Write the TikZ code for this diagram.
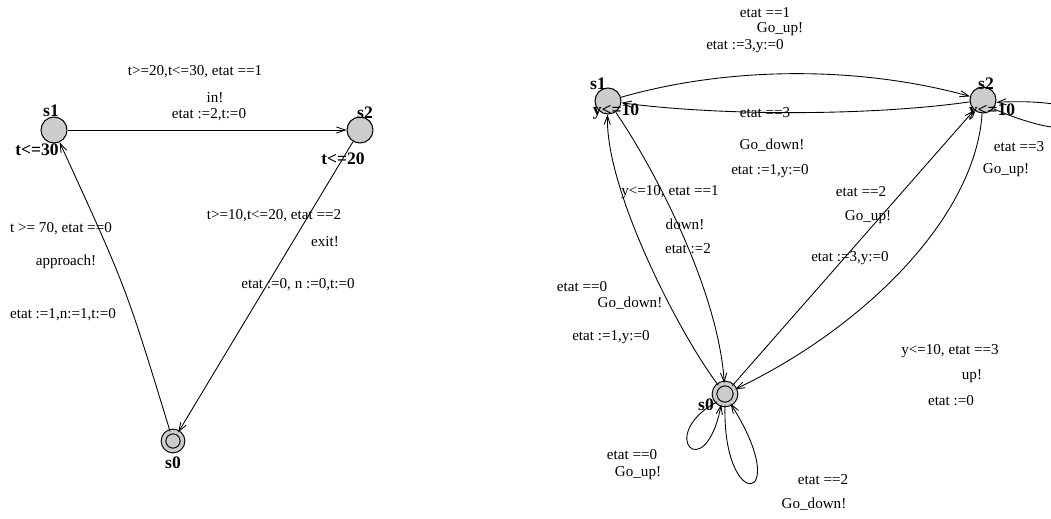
\documentclass[tikz,border=0pt]{standalone}
\usepackage{fontspec}
\setmainfont{Liberation Serif}
\usetikzlibrary{arrows.meta}
\tikzstyle{line} = [draw, line width=0.5pt, -{Straight Barb[length=5pt,width=3.5pt]}]
\tikzstyle{loc} = [draw, circle, fill=gray!40, minimum size=0.52cm, inner sep=0pt, line width=0.6pt]
\tikzstyle{initloc} = [loc, double=gray!40, double distance=2pt, minimum size=0.38cm]
\tikzstyle{lab} = [inner sep=0pt]
\tikzstyle{inv} = [inner sep=0pt, font=\bfseries]

\begin{document}
\begin{tikzpicture}[x=0.02cm, y=-0.02cm, font=\fontsize{8.6}{10}\selectfont]
        \path[use as bounding box, clip] (0,0) rectangle (1051,518);
        \node[loc] (ls1) at (54,130) {};
        \node[loc] (ls2) at (360,130) {};
        \node[initloc] (ls0) at (173,441) {};
        \node[inv] (ls1name) at (51,111) {s1};
        \node[inv] (ls1inv) at (37,150) {t<=30};
        \node[inv] (ls2name) at (365,113) {s2};
        \node[inv] (ls2inv) at (343,159) {t<=20};
        \node[inv] (ls0name) at (173,463) {s0};
        \node[lab] (inguard) at (195,72) {t>=20,t<=30, etat ==1};
        \node[lab] (insync) at (215,98) {in!};
        \node[lab] (inupd) at (209,115) {etat :=2,t:=0};
        \node[lab] (exitguard) at (274,216) {t>=10,t<=20, etat ==2};
        \node[lab] (exitsync) at (325,242) {exit!};
        \node[lab] (exitupd) at (298,285) {etat :=0, n :=0,t:=0};
        \node[lab] (appguard) at (61,229) {t >= 70, etat ==0};
        \node[lab] (appsync) at (66,262) {approach!};
        \node[lab] (appupd) at (63,315) {etat :=1,n:=1,t:=0};
        \path[line] (ls1) -- (ls2);
        \path[line] (ls2) -- (ls0);
        \path[line] (ls0) .. controls (126,287) .. (ls1);
        \node[loc] (rs1) at (608,101) {};
        \node[loc] (rs2) at (983,100) {};
        \node[initloc, minimum size=0.42cm] (rs0) at (725,394) {};
        \node[inv] (rs1name) at (598,84) {s1};
        \node[inv] (rs1inv) at (616,112) {y<=10};
        \node[inv] (rs2name) at (986,84) {s2};
        \node[inv] (rs2inv) at (992,112) {y<=10};
        \node[inv] (rs0name) at (706,405) {s0};
        \node[lab] (goupguard) at (765,13) {etat ==1};
        \node[lab] (goupsync) at (780,29) {Go\_up!};
        \node[lab] (goupupd) at (745,46) {etat :=3,y:=0};
        \node[lab] (backguard) at (765,113) {etat ==3};
        \node[lab] (backsync) at (772,145) {Go\_down!};
        \node[lab] (backupd) at (770,171) {etat :=1,y:=0};
        \node[lab] (downguard) at (670,192) {y<=10, etat ==1};
        \node[lab] (downsync) at (685,224) {down!};
        \node[lab] (downupd) at (688,249) {etat :=2};
        \node[lab] (godownguard) at (582,287) {etat ==0};
        \node[lab] (godownsync) at (630,303) {Go\_down!};
        \node[lab] (godownupd) at (611,337) {etat :=1,y:=0};
        \node[lab] (riseguard) at (861,192) {etat ==2};
        \node[lab] (risesync) at (868,217) {Go\_up!};
        \node[lab] (riseupd) at (850,258) {etat :=3,y:=0};
        \node[lab] (upguard) at (950,351) {y<=10, etat ==3};
        \node[lab] (upsync) at (972,376) {up!};
        \node[lab] (upupd) at (951,401) {etat :=0};
        \node[lab] (loopguard) at (1019,147) {etat ==3};
        \node[lab] (loopsync) at (1006,170) {Go\_up!};
        \node[lab] (idleguard) at (632,455) {etat ==0};
        \node[lab] (idlesync) at (638,473) {Go\_up!};
        \node[lab] (stayguard) at (823,480) {etat ==2};
        \node[lab] (staysync) at (814,504) {Go\_down!};
        \path[line] (rs1) .. controls (730,66) and (860,66) .. (rs2);
        \path[line] (rs2) .. controls (870,116) and (720,116) .. (rs1);
        \path[line] (rs1) .. controls (652,165) and (718,288) .. (rs0);
        \path[line] (rs0) .. controls (680,335) and (605,190) .. (rs1);
        \path[line] (rs0) -- (rs2);
        \path[line] (rs2) .. controls (975,220) and (860,330) .. (rs0);
        \path[line] (rs2.-40) .. controls (1110,160) and (1130,95) .. (rs2.-10);
        \path[line] (rs0.225) .. controls (655,435) and (705,488) .. (rs0.250);
        \path[line] (rs0.270) .. controls (722,515) and (795,505) .. (rs0.300);
\end{tikzpicture}
\end{document}
